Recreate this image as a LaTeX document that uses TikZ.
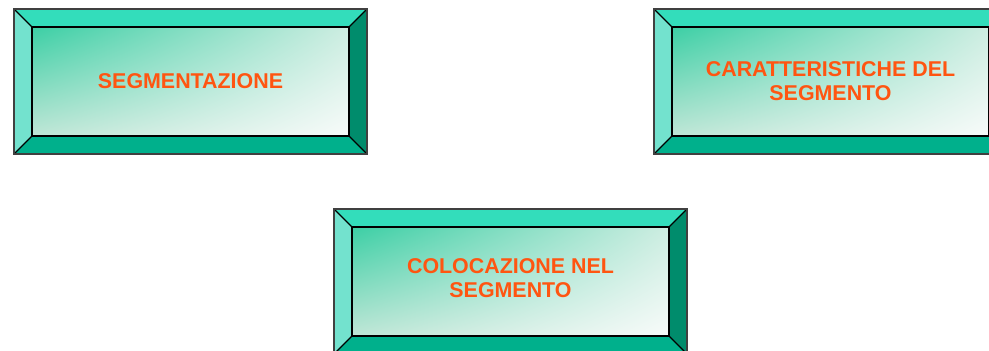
\documentclass[tikz,border=0pt]{standalone}
\usepackage{fontspec}
\setmainfont{Liberation Sans}
\usetikzlibrary{calc,shadings}
\definecolor{bevtop}{HTML}{33DDBB}
\definecolor{bevleft}{HTML}{73E2CE}
\definecolor{bevright}{HTML}{008C6C}
\definecolor{bevbot}{HTML}{00B08C}
\definecolor{innerTL}{HTML}{3CCFA5}
\definecolor{innerTR}{HTML}{CDEDE1}
\definecolor{innerBL}{HTML}{BFE6D6}
\definecolor{innerBR}{HTML}{F8FBFA}
\definecolor{txtorange}{HTML}{FF5511}
\tikzset{
  bevline/.style={draw=black, line width=1.1pt, line join=miter},
  boxlabel/.style={text=txtorange, font=\bfseries\fontsize{21.4}{24}\selectfont, align=center, inner sep=0pt}
}
% #1 name, (#2,#3) outer top-left, (#4,#5) outer bottom-right, #6 bevel, #7 text, #8 text y-shift
\newcommand\BevelBox[8]{%
  \coordinate (#1-o1) at (#2,#3);
  \coordinate (#1-o2) at (#4,#3);
  \coordinate (#1-o3) at (#4,#5);
  \coordinate (#1-o4) at (#2,#5);
  \coordinate (#1-i1) at ({#2+#6},{#3+#6});
  \coordinate (#1-i2) at ({#4-#6},{#3+#6});
  \coordinate (#1-i3) at ({#4-#6},{#5-#6});
  \coordinate (#1-i4) at ({#2+#6},{#5-#6});
  \fill[bevtop] (#1-o1) -- (#1-o2) -- (#1-i2) -- (#1-i1) -- cycle;
  \fill[bevright] (#1-o2) -- (#1-o3) -- (#1-i3) -- (#1-i2) -- cycle;
  \fill[bevbot] (#1-o3) -- (#1-o4) -- (#1-i4) -- (#1-i3) -- cycle;
  \fill[bevleft] (#1-o4) -- (#1-o1) -- (#1-i1) -- (#1-i4) -- cycle;
  \shade[upper left=innerTL, upper right=innerTR, lower left=innerBL, lower right=innerBR]
     (#1-i1) rectangle (#1-i3);
  \draw[bevline] (#1-o1) -- (#1-i1) (#1-o2) -- (#1-i2) (#1-o3) -- (#1-i3) (#1-o4) -- (#1-i4);
  \draw[bevline] (#1-i1) rectangle (#1-i3);
  \draw[draw=black!75, line width=1.1pt] (#1-o1) rectangle (#1-o3);
  \node[boxlabel] (#1) at ($ (#1-i1)!0.5!(#1-i3) + (0,#8) $) {#7};
}
\begin{document}
\begin{tikzpicture}[x=1pt,y=-1pt]
\useasboundingbox (0,0) rectangle (989,351);
\clip (0,0) rectangle (989,351);
\BevelBox{seg}{14}{9}{367}{154}{18}{SEGMENTAZIONE}{0}
\BevelBox{car}{654}{9}{1007}{154}{18}{CARATTERISTICHE DEL\\SEGMENTO}{0}
\BevelBox{col}{334}{209}{687}{354}{18}{COLOCAZIONE NEL\\SEGMENTO}{-3}
\end{tikzpicture}
\end{document}
